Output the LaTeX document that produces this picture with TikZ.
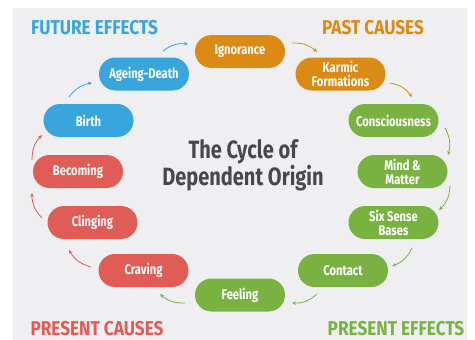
\documentclass[tikz,border=0pt]{standalone}
\usepackage{fontspec}
\setmainfont{Fira Sans}[FakeStretch=0.8]
\newfontfamily\headfont{Fira Sans}[FakeStretch=0.86]
\usetikzlibrary{arrows.meta}
\definecolor{bgray}{RGB}{239,239,241}
\definecolor{cblue}{RGB}{56,165,220}
\definecolor{corange}{RGB}{219,138,22}
\definecolor{cgreen}{RGB}{122,178,66}
\definecolor{cred}{RGB}{224,92,86}
\definecolor{ctitle}{RGB}{72,72,76}
\tikzset{
  link/.style={minimum width=90pt, minimum height=33pt, rounded corners=16.5pt,
    text=white, font=\bfseries\fontsize{14}{14}\selectfont, align=center,
    inner sep=0pt},
  blue link/.style={link, fill=cblue},
  orange link/.style={link, fill=corange},
  green link/.style={link, fill=cgreen},
  red link/.style={link, fill=cred},
  flow/.style={line width=0.8pt, -{Stealth[length=4pt,width=3.5pt]}, bend left=22},
  heading/.style={font=\headfont\bfseries\fontsize{20}{21}\selectfont, inner sep=0pt}
}
\begin{document}
\begin{tikzpicture}[x=1pt, y=-1pt]
  \useasboundingbox (0,0) rectangle (475,340);
  \fill[white] (0,0) rectangle (475,340);
  \fill[bgray] (13,8) rectangle (467,340);

  % section headings
  \node[heading, text=cblue] (hfe) at (94.5,28) {FUTURE EFFECTS};
  \node[heading, text=corange] (hpc) at (373,28) {PAST CAUSES};
  \node[heading, text=cred] (hprc) at (97,329) {PRESENT CAUSES};
  \node[heading, text=cgreen] (hpre) at (396,329) {PRESENT EFFECTS};

  % title
  \node[text=ctitle, font=\bfseries\fontsize{25}{25}\selectfont, align=center, inner sep=0pt]
    (title) at (243,165) {The Cycle of\\Dependent Origin};

  % the twelve links
  \node[orange link] (ig) at (240,51.5) {Ignorance};
  \node[orange link] (km) at (340.5,74) {Karmic\\Formations};
  \node[green link] (cs) at (393.5,120.5) {Consciousness};
  \node[green link] (mm) at (402.5,171.5) {Mind \&\\Matter};
  \node[green link] (ss) at (393.5,222.5) {Six Sense\\Bases};
  \node[green link] (ct) at (343,270.5) {Contact};
  \node[green link] (fe) at (240,295) {Feeling};
  \node[red link] (cr) at (143.5,270.5) {Craving};
  \node[red link] (cl) at (92.5,222.5) {Clinging};
  \node[red link] (be) at (78,171.5) {Becoming};
  \node[blue link] (bi) at (88.5,120.5) {Birth};
  \node[blue link] (ag) at (144,74) {Ageing-Death};

  % arrow ends between consecutive links
  \coordinate (a1s) at (163,51);  \coordinate (a1e) at (188,44);
  \coordinate (a2s) at (292,43);  \coordinate (a2e) at (317,52);
  \coordinate (a3s) at (390,83);  \coordinate (a3e) at (412,97);
  \coordinate (a4s) at (445,128); \coordinate (a4e) at (448,155);
  \coordinate (a5s) at (450,186); \coordinate (a5e) at (439,210);
  \coordinate (a6s) at (412,248); \coordinate (a6e) at (392,266);
  \coordinate (a7s) at (317,294); \coordinate (a7e) at (292,303);
  \coordinate (a8s) at (185,303); \coordinate (a8e) at (160,294);
  \coordinate (a9s) at (91,267);  \coordinate (a9e) at (69,250);
  \coordinate (a10s) at (42,218); \coordinate (a10e) at (32,193);
  \coordinate (a11s) at (32,160); \coordinate (a11e) at (42,135);
  \coordinate (a12s) at (69,97);  \coordinate (a12e) at (92,83);

  \draw[flow, cblue]   (a1s) to (a1e);
  \draw[flow, corange] (a2s) to (a2e);
  \draw[flow, corange] (a3s) to (a3e);
  \draw[flow, cgreen]  (a4s) to (a4e);
  \draw[flow, cgreen]  (a5s) to (a5e);
  \draw[flow, cgreen]  (a6s) to (a6e);
  \draw[flow, cgreen]  (a7s) to (a7e);
  \draw[flow, cgreen]  (a8s) to (a8e);
  \draw[flow, cred]    (a9s) to (a9e);
  \draw[flow, cred]    (a10s) to (a10e);
  \draw[flow, cred]    (a11s) to (a11e);
  \draw[flow, cblue]   (a12s) to (a12e);
\end{tikzpicture}
\end{document}
